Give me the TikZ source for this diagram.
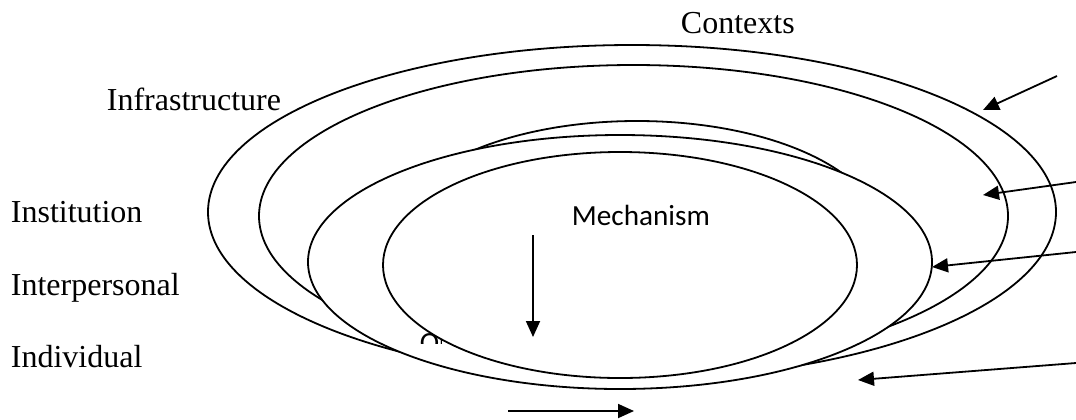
\documentclass[tikz,border=0pt]{standalone}
\usepackage{fontspec}
\setmainfont{Liberation Serif}
\newfontfamily\calibri{Carlito}
\usetikzlibrary{shapes.geometric,arrows.meta}

\begin{document}
\begin{tikzpicture}[x=0.5pt,y=-0.5pt,line width=0.9pt,>={Triangle[length=8pt,width=7pt]}]
\tikzstyle{ring}=[ellipse,draw,fill=white,inner sep=0,line width=0.9pt]
\tikzstyle{level}=[anchor=base west,inner sep=0,font=\fontsize{16}{19}\selectfont]
\tikzstyle{small}=[anchor=base west,inner sep=0,font=\calibri\fontsize{14.6}{17}\selectfont]
\useasboundingbox (0,0) rectangle (1076,419);
% rings, back to front
\node[ring,minimum width=424pt,minimum height=167pt] (ctx) at (632,212) {};
\node[ring,minimum width=374.5pt,minimum height=151pt] (infra) at (633.5,216) {};
\node[ring,minimum width=245pt,minimum height=115pt] (inter) at (637,236) {};
\node[ring,minimum width=312pt,minimum height=127pt] (inst) at (620,262) {};
\begin{scope}
\clip (400,320) rectangle (441,343);
\node[small] (outlbl) at (419,352) {Ou};
\end{scope}
\node[ring,minimum width=237pt,minimum height=113pt] (mech) at (620,265) {};
% labels
\node[level] (ctxlbl) at (680,33) {Contexts};
\node[level] (infralbl) at (106,110) {Infrastructure};
\node[level] (instlbl) at (10,222) {Institution};
\node[level] (interlbl) at (10,295) {Interpersonal};
\node[level] (indivlbl) at (10,367) {Individual};
\node[small] (mechlbl) at (571,225) {Mechanism};
% arrows
\coordinate (s1) at (1057,76);
\coordinate (t1) at (983,110);
\coordinate (s2) at (1076,182);
\coordinate (t2) at (983,195);
\coordinate (s3) at (1076,252);
\coordinate (t3) at (932,267);
\coordinate (s4) at (1076,363);
\coordinate (t4) at (858,380);
\coordinate (s5) at (533,235);
\coordinate (t5) at (533,337);
\coordinate (s6) at (508,411);
\coordinate (t6) at (634,411);
\draw [->] (s1) -- (t1);
\draw [->] (s2) -- (t2);
\draw [->] (s3) -- (t3);
\draw [->] (s4) -- (t4);
\draw [->] (s5) -- (t5);
\draw [->] (s6) -- (t6);
\end{tikzpicture}
\end{document}
